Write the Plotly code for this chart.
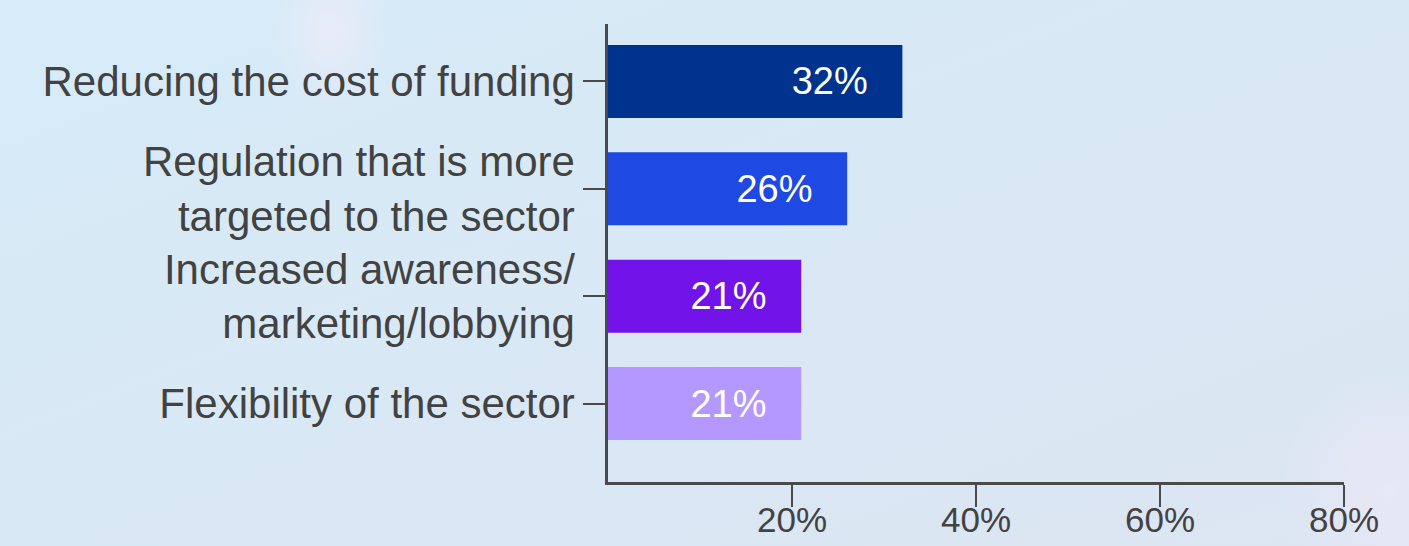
import base64
import plotly.graph_objects as go

# Survey results: factors that would most help the sector
categories = [
    "Reducing the cost of funding",
    "Regulation that is more<br>targeted to the sector",
    "Increased awareness/<br>marketing/lobbying",
    "Flexibility of the sector",
]
shares = [32, 26, 21, 21]
bar_colors = ["#00338D", "#1E49E2", "#7213EA", "#B497FF"]

tick_values = [20, 40, 60, 80]
tick_labels = ["20%", "40%", "60%", "80%"]

W, H = 1409, 546
M_L, M_R, M_T, M_B = 608, 65, 24, 64
plot_w = W - M_L - M_R
plot_h = H - M_T - M_B

# Soft light-blue backdrop with a couple of faint glows
bg_svg = f"""<svg xmlns='http://www.w3.org/2000/svg' width='{W}' height='{H}'>
<defs>
<linearGradient id='g' x1='0' y1='0' x2='1' y2='1'>
<stop offset='0' stop-color='#d7ebf8'/>
<stop offset='0.5' stop-color='#d9e8f5'/>
<stop offset='1' stop-color='#dde5f2'/>
</linearGradient>
<radialGradient id='b1'><stop offset='0' stop-color='#f1ecf8' stop-opacity='0.7'/><stop offset='1' stop-color='#f1ecf8' stop-opacity='0'/></radialGradient>
<radialGradient id='b2'><stop offset='0' stop-color='#e9e8f6' stop-opacity='0.9'/><stop offset='1' stop-color='#e9e8f6' stop-opacity='0'/></radialGradient>
</defs>
<rect width='{W}' height='{H}' fill='url(#g)'/>
<ellipse cx='330' cy='30' rx='60' ry='80' fill='url(#b1)'/>
<ellipse cx='1390' cy='490' rx='110' ry='120' fill='url(#b2)'/>
</svg>"""
bg_uri = "data:image/svg+xml;base64," + base64.b64encode(bg_svg.encode()).decode()

fig = go.Figure(
    go.Bar(
        x=shares,
        y=categories,
        orientation="h",
        marker=dict(color=bar_colors, line=dict(width=0)),
        width=0.68,
        texttemplate="%{x}%\u00a0\u00a0\u00a0",
        textposition="inside",
        insidetextanchor="end",
        textangle=0,
        textfont=dict(color="white", size=38, family="Liberation Sans, Arial, sans-serif"),
        hoverinfo="skip",
    )
)

axis_color = "#4a4a4a"
fig.update_layout(
    width=W,
    height=H,
    margin=dict(l=M_L, r=M_R, t=M_T, b=M_B, pad=0),
    paper_bgcolor="#d9e8f5",
    plot_bgcolor="rgba(0,0,0,0)",
    showlegend=False,
    font=dict(family="Liberation Sans, Arial, sans-serif", color="#424242"),
    images=[
        dict(
            source=bg_uri,
            xref="paper",
            yref="paper",
            x=-M_L / plot_w,
            y=1 + M_T / plot_h,
            sizex=W / plot_w,
            sizey=H / plot_h,
            xanchor="left",
            yanchor="top",
            sizing="stretch",
            layer="below",
        )
    ],
    xaxis=dict(
        range=[0, 80],
        tickvals=tick_values,
        ticktext=tick_labels,
        showgrid=False,
        zeroline=False,
        showline=True,
        linecolor=axis_color,
        linewidth=2.5,
        ticks="outside",
        ticklen=22,
        tickwidth=2,
        tickcolor=axis_color,
        tickfont=dict(size=35, color="#424242"),
        ticklabelstandoff=-17,
        automargin=False,
        fixedrange=True,
    ),
    yaxis=dict(
        type="category",
        range=[3.73, -0.535],
        showgrid=False,
        zeroline=False,
        showline=True,
        linecolor=axis_color,
        linewidth=2.5,
        ticks="outside",
        ticklen=22,
        tickwidth=2,
        tickcolor=axis_color,
        tickfont=dict(size=42, color="#424242"),
        ticklabelstandoff=0,
        automargin=False,
        fixedrange=True,
    ),
)

fig.write_html("out.html")
